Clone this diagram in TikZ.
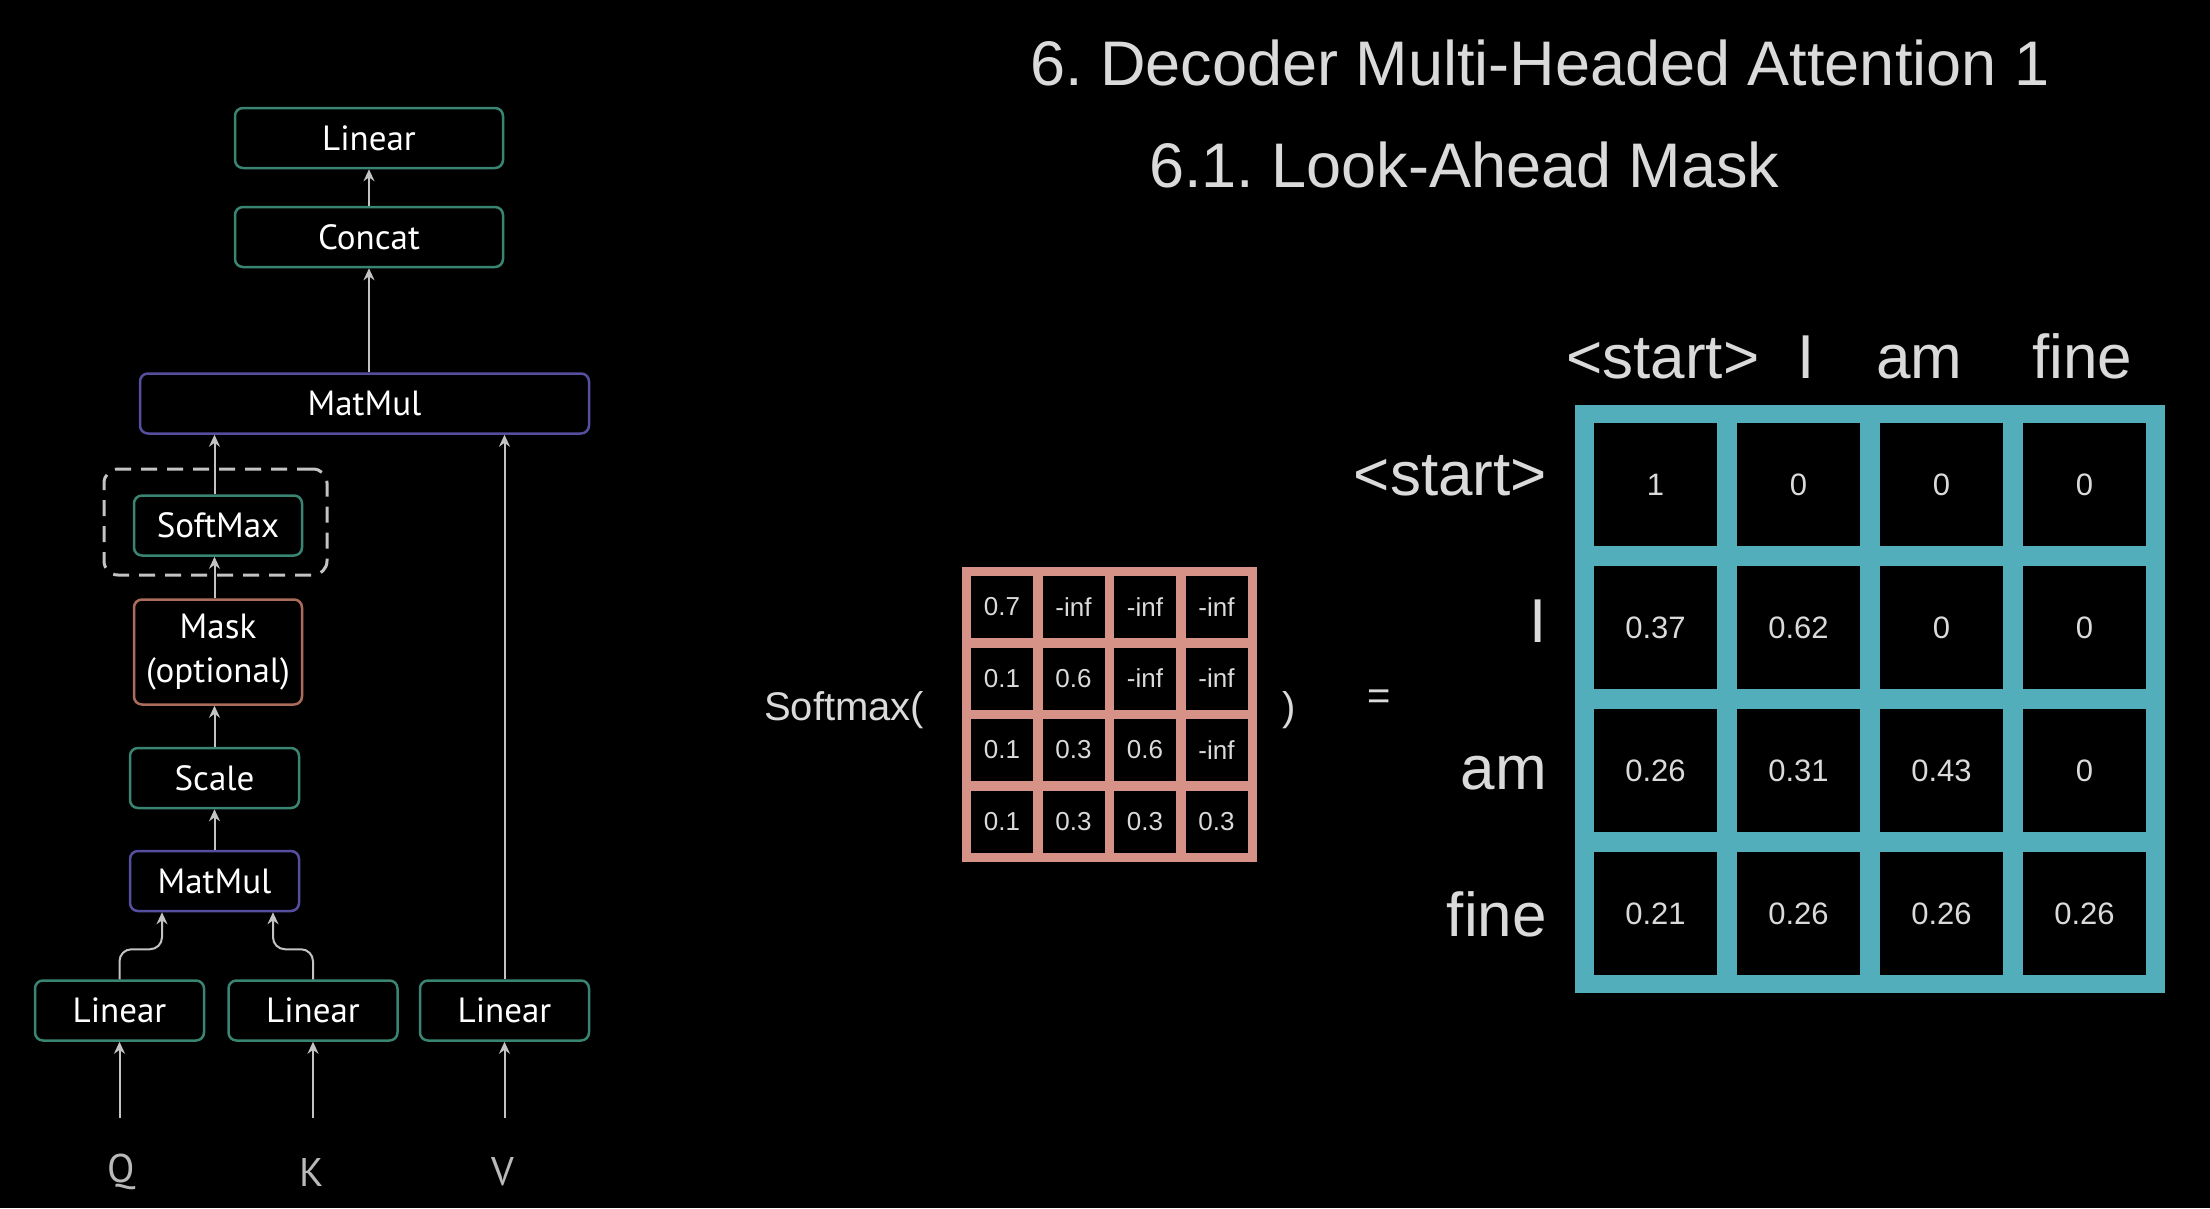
\documentclass[tikz,border=0pt]{standalone}
\usepackage{fontspec}
\setmainfont{Liberation Sans}
\newfontfamily\boxfont{PT Sans}
\usetikzlibrary{arrows.meta}
\frenchspacing

\definecolor{boxgreen}{RGB}{58,132,114}
\definecolor{boxpurple}{RGB}{86,78,158}
\definecolor{boxsalmon}{RGB}{172,108,90}
\definecolor{softred}{RGB}{214,146,134}
\definecolor{outteal}{RGB}{82,174,186}
\definecolor{txtgray}{RGB}{218,218,218}
\definecolor{qkvgray}{RGB}{185,185,185}
\definecolor{arrowgray}{RGB}{195,195,195}

\begin{document}
\begin{tikzpicture}[x=1pt, y=-1pt,
    block/.style={draw=boxgreen, line width=2.5pt, rounded corners=8pt,
      minimum height=60pt, inner sep=0pt, align=center, text=white,
      font=\boxfont\fontsize{35}{44}\selectfont},
    flow/.style={draw=arrowgray, line width=2pt,
      -{Stealth[length=12pt, width=11pt]}},
    qkv/.style={text=qkvgray, inner sep=0pt,
      font=\boxfont\fontsize{40}{48}\selectfont},
    word/.style={text=txtgray, inner sep=0pt, font=\fontsize{62}{74}\selectfont},
    heading/.style={text=txtgray, inner sep=0pt, anchor=base west,
      font=\fontsize{63}{75}\selectfont},
    scell/.style={fill=black, minimum size=62pt, inner sep=0pt, text=txtgray,
      font=\fontsize{26}{30}\selectfont},
    bcell/.style={fill=black, minimum size=123pt, inner sep=0pt, text=txtgray,
      font=\fontsize{31}{36}\selectfont}]
  \fill[black] (0,0) rectangle (2210,1208);
  \useasboundingbox (0,0) rectangle (2210,1208);

  %attention blocks
  \node[block, minimum width=268pt] (lintop) at (369,138) {Linear};
  \node[block, minimum width=268pt] (concat) at (369,237) {Concat};
  \node[block, draw=boxpurple, minimum width=449pt] (matbig) at (364.5,403.5) {MatMul};
  \node[draw=arrowgray, line width=3pt, dash pattern=on 16pt off 10pt,
        rounded corners=14pt, minimum width=223pt, minimum height=106pt]
        (softgroup) at (215.5,522) {};
  \node[block, minimum width=168pt] (softmax) at (218,525.5) {SoftMax};
  \node[block, draw=boxsalmon, minimum width=168pt, minimum height=105pt]
        (mask) at (218,652) {Mask\\(optional)};
  \node[block, minimum width=169pt] (scale) at (214.5,778) {Scale};
  \node[block, draw=boxpurple, minimum width=169pt] (matsmall) at (214.5,881) {MatMul};
  \node[block, minimum width=169pt] (linq) at (119.5,1010.5) {Linear};
  \node[block, minimum width=169pt] (link) at (313,1010.5) {Linear};
  \node[block, minimum width=169pt] (linv) at (504.5,1010.5) {Linear};
  \node[qkv] (q) at (121,1172) {Q};
  \node[qkv] (k) at (312,1172) {K};
  \node[qkv] (v) at (503,1172) {V};

  %arrows
  \draw[flow] ([yshift=54pt]q.center -| linq.south) -- (linq.south);
  \draw[flow] ([yshift=54pt]k.center -| link.south) -- (link.south);
  \draw[flow] ([yshift=54pt]v.center -| linv.south) -- (linv.south);
  \draw[flow, rounded corners=12pt] (linq.north) -- ++(0,-30)
        -| ([xshift=-52.5pt]matsmall.south);
  \draw[flow, rounded corners=12pt] (link.north) -- ++(0,-30)
        -| ([xshift=58.5pt]matsmall.south);
  \draw[flow] (matsmall.north) -- (scale.south);
  \draw[flow] (scale.north) -- (scale.north |- mask.south);
  \draw[flow] (scale.north |- mask.north) -- (scale.north |- softmax.south);
  \draw[flow] (scale.north |- softmax.north) -- (scale.north |- matbig.south);
  \draw[flow] (linv.north) -- (linv.north |- matbig.south);
  \draw[flow] (concat.south |- matbig.north) -- (concat.south);
  \draw[flow] (concat.north) -- (lintop.south);

  %headings
  \node[heading] (title) at (1030,85) {6. Decoder Multi-Headed Attention 1};
  \node[heading] (subtitle) at (1149,187) {6.1. Look-Ahead Mask};

  %softmax input
  \node[text=txtgray, inner sep=0pt, anchor=base west,
        font=\fontsize{40}{48}\selectfont] (smx) at (764,720) {Softmax(};
  \fill[softred] (962,567) rectangle (1256.5,861.5);
  \draw (1002,607) node[scell] (s11) {0.7} (1073.5,607) node[scell] (s12) {-inf}
        (1145,607) node[scell] (s13) {-inf} (1216.5,607) node[scell] (s14) {-inf};
  \draw (1002,678.5) node[scell] (s21) {0.1} (1073.5,678.5) node[scell] (s22) {0.6}
        (1145,678.5) node[scell] (s23) {-inf} (1216.5,678.5) node[scell] (s24) {-inf};
  \draw (1002,750) node[scell] (s31) {0.1} (1073.5,750) node[scell] (s32) {0.3}
        (1145,750) node[scell] (s33) {0.6} (1216.5,750) node[scell] (s34) {-inf};
  \draw (1002,821.5) node[scell] (s41) {0.1} (1073.5,821.5) node[scell] (s42) {0.3}
        (1145,821.5) node[scell] (s43) {0.3} (1216.5,821.5) node[scell] (s44) {0.3};
  \node[text=txtgray, inner sep=0pt, anchor=base west,
        font=\fontsize{40}{48}\selectfont] (cls) at (1282,720) {)};
  \node[text=txtgray, inner sep=0pt, font=\fontsize{40}{48}\selectfont]
        (eq) at (1379,700) {=};

  %masked attention weights
  \node[word, anchor=base west] (c1) at (1566,378) {<start>};
  \node[word, anchor=base west] (c2) at (1797,378) {I};
  \node[word, anchor=base west] (c3) at (1876,378) {am};
  \node[word, anchor=base west] (c4) at (2032,378) {fine};
  \node[word, anchor=base east] (r1) at (1547,495) {<start>};
  \node[word, anchor=base east] (r2) at (1547,642) {I};
  \node[word, anchor=base east] (r3) at (1547,789) {am};
  \node[word, anchor=base east] (r4) at (1547,936) {fine};
  \fill[outteal] (1575,405) rectangle (2165,993);
  \draw (1655.5,484.5) node[bcell] (w11) {1} (1798.5,484.5) node[bcell] (w12) {0}
        (1941.5,484.5) node[bcell] (w13) {0} (2084.5,484.5) node[bcell] (w14) {0};
  \draw (1655.5,627.5) node[bcell] (w21) {0.37} (1798.5,627.5) node[bcell] (w22) {0.62}
        (1941.5,627.5) node[bcell] (w23) {0} (2084.5,627.5) node[bcell] (w24) {0};
  \draw (1655.5,770.5) node[bcell] (w31) {0.26} (1798.5,770.5) node[bcell] (w32) {0.31}
        (1941.5,770.5) node[bcell] (w33) {0.43} (2084.5,770.5) node[bcell] (w34) {0};
  \draw (1655.5,913.5) node[bcell] (w41) {0.21} (1798.5,913.5) node[bcell] (w42) {0.26}
        (1941.5,913.5) node[bcell] (w43) {0.26} (2084.5,913.5) node[bcell] (w44) {0.26};

\end{tikzpicture}
\end{document}
